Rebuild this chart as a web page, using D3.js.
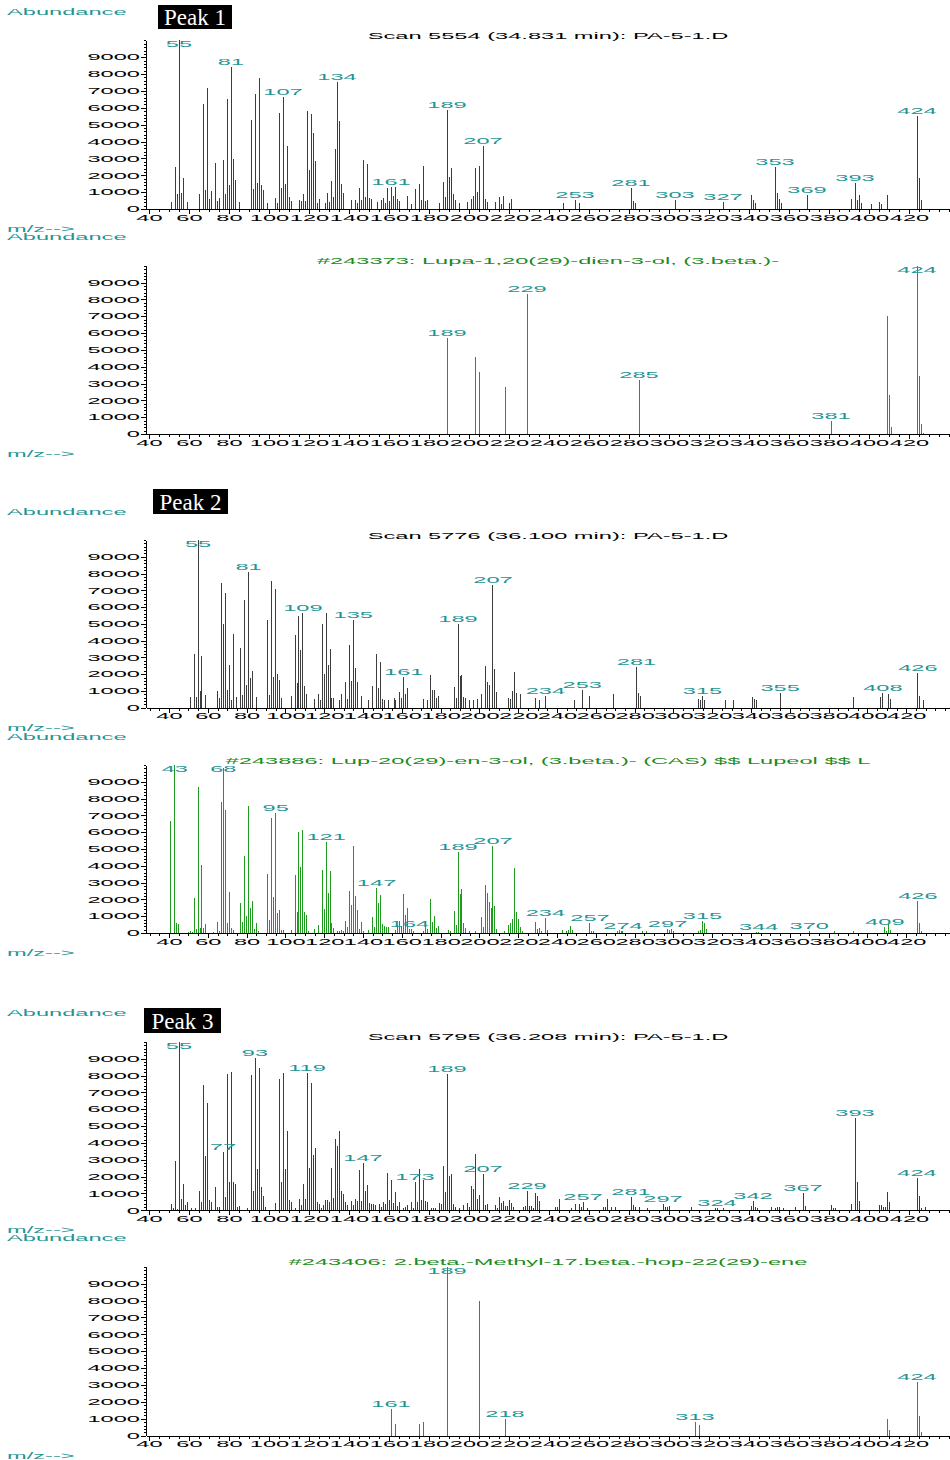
<!DOCTYPE html>
<html>
<head>
<meta charset="UTF-8">
<script src="https://d3js.org/d3.v7.min.js"></script>
<style>
  body { margin: 0; background: #fff; }
</style>
</head>
<body>
<script>
// ---- data: [m/z, abundance] ----
const peak1Scan = [
  [51,430],[53,2490],[54,870],[55,10000],[56,930],[57,1820],[59,430],
  [65,890],[67,6200],[68,1130],[69,7170],[70,590],[71,1050],[73,2750],[74,470],[75,650],
  [77,2900],[78,890],[79,6540],[80,1440],[81,8420],[82,2960],[83,1720],[85,415],
  [91,5300],[92,1190],[93,6840],[94,1520],[95,7770],[96,1420],[97,1130],[99,360],
  [103,630],[104,360],[105,5690],[106,1230],[107,6640],[108,1480],[109,3730],[110,730],[111,470],
  [115,550],[116,450],[117,890],[118,470],[119,5830],[120,2310],[121,5630],[122,4500],[123,2850],[124,360],[125,570],
  [128,360],[129,950],[130,415],[131,1640],[132,710],[133,3540],[134,7530],[135,5220],[136,1500],[137,950],
  [141,510],[143,510],[144,340],[145,1230],[146,550],[147,2890],[148,710],[149,2670],[150,670],[151,570],
  [154,400],[156,530],[157,650],[158,340],[159,1260],[160,450],[161,1320],[162,750],[163,1280],[164,570],[165,470],
  [169,750],[171,300],[173,1170],[175,1500],[176,530],[177,2530],[178,490],[179,550],
  [185,375],[187,1620],[188,710],[189,5850],[190,1900],[191,2450],[192,890],[193,550],[195,360],
  [199,415],[201,570],[202,750],[203,2450],[204,1010],[205,2530],[207,3750],[208,570],[209,415],
  [213,415],[215,710],[216,300],[217,770],[220,375],[221,590],
  [247,340],[253,550],[255,340],[281,1250],[282,470],[283,360],[303,510],[327,400],
  [341,810],[342,550],[343,375],[353,2490],[354,930],[355,610],[356,360],[369,830],
  [391,570],[393,1540],[394,530],[395,850],[396,360],[401,300],[405,415],[406,300],[409,850],
  [424,5490],[425,1820],[426,530]
];
const peak1ScanLabels = [55,81,107,134,161,189,207,253,281,303,327,353,369,393,424];

const peak1Lib = [
  [189,5690],[203,4600],[205,3690],[218,2820],[229,8310],[285,3190],[381,770],
  [409,7020],[410,2320],[411,420],[424,10000],[425,3450],[426,600],[427,80]
];
const peak1LibLabels = [189,229,285,381,424];

const peak2Scan = [
  [51,640],[53,3200],[54,640],[55,10000],[56,990],[57,3100],[59,740],
  [65,970],[66,580],[67,7430],[68,5010],[69,6830],[70,1030],[71,2520],[72,480],[73,4410],[75,620],
  [77,3540],[78,780],[79,6420],[80,1330],[81,8100],[82,1770],[83,2200],[85,640],
  [91,5210],[92,780],[93,7570],[94,1810],[95,7050],[96,2000],[97,1650],[98,580],
  [103,720],[105,4310],[106,1450],[107,5480],[108,3420],[109,5660],[110,1290],[111,830],
  [115,500],[117,790],[118,460],[119,4990],[120,2000],[121,5640],[122,2520],[123,3520],[124,580],[125,560],
  [128,460],[129,830],[131,1510],[132,540],[133,3720],[134,1610],[135,5250],[136,2360],[137,1550],[139,720],
  [143,440],[145,1290],[147,3220],[148,1190],[149,2700],[150,500],[151,460],[153,460],
  [156,560],[157,480],[159,950],[160,600],[161,1810],[162,830],[163,1170],
  [171,500],[173,460],[175,1970],[176,1030],[177,1030],[178,600],[179,680],
  [187,1230],[188,560],[189,4990],[190,1890],[191,1970],[192,660],[193,560],[195,440],[197,440],[199,500],
  [201,830],[203,2480],[204,1510],[205,1350],[207,7310],[208,2300],[209,910],
  [215,560],[216,540],[217,990],[218,2110],[219,850],[221,790],
  [229,560],[231,460],[234,720],[249,460],[253,1050],[257,720],[269,790],
  [281,2420],[282,890],[283,680],[313,520],[314,460],[315,720],[316,440],
  [327,480],[331,460],[341,640],[342,500],[343,440],[355,870],[393,640],
  [407,620],[408,900],[411,830],[412,540],[426,2070],[427,680],[429,440]
];
const peak2ScanLabels = [55,81,109,135,161,189,207,234,253,281,315,355,408,426];

const peak2Lib = [
  [41,6660],[43,10000],[44,620],[45,560],[50,80],[51,140],[52,80],[53,2070],[54,220],[55,8680],[56,280],[57,4050],[58,320],[59,540],
  [63,80],[65,640],[66,100],[67,7810],[68,9810],[69,7330],[70,600],[71,2460],[72,320],[73,160],
  [77,1770],[78,660],[79,4610],[80,1010],[81,7570],[82,1490],[83,1910],[84,260],[85,580],[86,120],
  [91,3540],[92,760],[93,6820],[94,2150],[95,7150],[96,1190],[97,1350],[98,180],[99,160],
  [103,160],[105,3440],[106,1250],[107,6030],[108,3930],[109,6120],[110,1270],[111,1050],[112,100],
  [115,220],[117,480],[119,3760],[120,1430],[121,5440],[122,2360],[123,3700],[124,580],[125,320],
  [127,120],[128,120],[129,180],[130,120],[131,720],[132,360],[133,2500],[134,1650],[135,5150],[136,2210],[137,1390],[138,260],[139,680],[140,120],
  [143,180],[145,940],[146,380],[147,2700],[148,1770],[149,2270],[150,540],[151,420],[152,360],[153,340],
  [157,200],[158,480],[159,740],[160,440],[161,2320],[162,1050],[163,1490],[164,240],[165,220],[166,120],
  [171,140],[172,740],[173,260],[175,2030],[176,680],[177,1010],[178,320],[179,420],
  [184,160],[185,140],[187,1330],[188,500],[189,4830],[190,2330],[191,2640],[192,580],[193,320],[195,120],[198,120],
  [201,970],[202,380],[203,2860],[204,2380],[205,1850],[206,1510],[207,5170],[208,1590],[209,220],
  [213,100],[215,460],[216,580],[217,830],[218,3850],[219,1250],[220,830],[221,340],[222,100],
  [229,660],[230,220],[231,320],[232,100],[234,890],[235,180],
  [243,160],[245,140],[246,160],[247,420],[248,160],[257,580],[258,140],[259,120],
  [271,120],[272,180],[273,120],[274,120],[284,100],[286,100],
  [297,220],[298,160],[299,240],[300,100],[313,140],[314,200],[315,720],[316,580],[317,260],
  [343,80],[344,80],[370,100],[383,100],[393,100],
  [409,380],[410,100],[411,520],[412,160],[426,1890],[427,580],[428,100]
];
const peak2LibLabels = [43,68,95,121,147,164,189,207,234,257,274,297,315,344,370,409,426];

const peak3Scan = [
  [51,360],[52,120],[53,2930],[54,100],[55,10000],[56,690],[57,1580],[58,300],[59,490],[61,120],[63,160],
  [65,1130],[66,490],[67,7460],[68,3240],[69,6370],[70,610],[71,470],[73,1380],[74,180],[75,180],
  [77,3480],[78,810],[79,8090],[80,1700],[81,8210],[82,1700],[83,1580],[84,220],[85,280],[89,140],
  [91,8030],[92,1150],[93,9040],[94,2470],[95,8470],[96,1400],[97,850],[98,200],
  [103,450],[105,7810],[106,1700],[107,8150],[108,2430],[109,4710],[110,590],[111,470],[113,120],
  [115,670],[116,340],[117,1560],[118,670],[119,8150],[120,2530],[121,7540],[122,3260],[123,3700],[124,510],[125,380],[126,140],[127,320],
  [128,590],[129,590],[130,490],[131,2490],[132,730],[133,4250],[134,3840],[135,4710],[136,1130],[137,970],[138,490],[139,340],
  [141,550],[142,320],[143,650],[144,550],[145,2410],[146,550],[147,2790],[148,1130],[149,1500],[150,430],[151,360],[152,360],[153,340],
  [155,380],[156,220],[157,490],[158,400],[159,2230],[160,590],[161,1780],[162,450],[163,1070],[164,260],[165,510],
  [167,140],[168,220],[169,320],[171,470],[172,160],[173,1700],[174,470],[175,2470],[176,590],[177,1800],[178,530],[179,490],
  [181,140],[182,140],[183,160],[185,450],[186,380],[187,2650],[188,1090],[189,8090],[190,2040],[191,2180],[192,380],[193,220],[195,140],[197,320],
  [199,430],[200,220],[201,1420],[202,1250],[203,3340],[204,650],[205,890],[207,2160],[208,340],[209,360],
  [213,320],[214,160],[215,770],[216,430],[217,530],[218,280],[219,280],[220,610],[221,430],[222,180],
  [227,220],[228,280],[229,1170],[230,280],[231,280],[232,140],[233,1010],[234,850],[235,550],
  [243,220],[244,180],[245,650],[251,120],[253,360],[255,360],[256,220],[257,510],[259,120],
  [267,220],[268,180],[269,690],[271,220],[273,180],
  [281,770],[282,300],[283,220],[285,220],[289,120],[297,360],[298,220],[299,220],[300,280],[311,200],
  [323,120],[324,160],[327,120],[341,280],[342,550],[343,180],[344,140],
  [351,180],[353,120],[354,180],[355,200],[357,120],[363,180],[367,1010],[368,240],
  [381,340],[382,140],[383,140],[391,360],[393,5460],[394,1680],[395,570],
  [405,320],[406,320],[407,170],[408,170],[409,1070],[410,500],[424,1940],[425,830],[426,120],[428,220]
];
const peak3ScanLabels = [55,77,93,119,147,173,189,207,229,257,281,297,324,342,367,393,424];

const peak3Lib = [
  [161,1580],[163,710],[175,690],[177,810],[189,10000],[205,7990],[218,990],
  [313,810],[315,610],[409,990],[410,340],[424,3200],[425,1140],[426,200]
];
const peak3LibLabels = [161,189,218,313,424];

const scanTitles = [
  "Scan 5554 (34.831 min): PA-5-1.D",
  "Scan 5776 (36.100 min): PA-5-1.D",
  "Scan 5795 (36.208 min): PA-5-1.D"
];
const libTitles = [
  "#243373: Lupa-1,20(29)-dien-3-ol, (3.beta.)-",
  "#243886: Lup-20(29)-en-3-ol, (3.beta.)- (CAS) $$ Lupeol $$ L",
  "#243406: 2.beta.-Methyl-17.beta.-hop-22(29)-ene"
];
const peakNames = ["Peak 1", "Peak 2", "Peak 3"];
const xTickLabels = d3.range(40, 421, 20);
const yTickLabels = d3.range(0, 9001, 1000);

// ---- styling ----
const FONT = "'Liberation Sans', Arial, sans-serif";
const FS = 8.5, SX = 2.78;   // chemstation style: small and very wide
const TEAL = "#1f9595", GREEN = "#1a8c1a", BAR = "#3c3c3c", LIBBAR = "#1f9a1f";
const X0 = 146, X1 = 950;

const svg = d3.select("body").append("svg")
  .attr("width", 950).attr("height", 1460);

function wide(g, x, y, txt, anchor, color) {
  return g.append("text")
    .attr("transform", `translate(${x},${y}) scale(${SX},1)`)
    .attr("text-anchor", anchor)
    .attr("fill", color)
    .attr("font-family", FONT)
    .attr("font-size", FS)
    .text(txt);
}

function drawPanel(o) {
  const g = svg.append("g");
  const x = d3.scaleLinear().domain([o.mzLeft, o.mzLeft + (X1 - X0) / o.ppu]).range([X0, X1]);
  const y = d3.scaleLinear().domain([0, 10000]).range([o.base, o.top]);

  // x axis: minor ticks every 5, labelled ticks every 20
  g.append("g").attr("transform", `translate(0,${o.base})`)
    .call(d3.axisBottom(x).tickValues(d3.range(Math.ceil(o.mzLeft / 5) * 5, x.domain()[1], 5))
      .tickSize(3).tickSizeOuter(0).tickFormat(""));
  const xa = g.append("g").attr("transform", `translate(0,${o.base})`)
    .call(d3.axisBottom(x).tickValues(xTickLabels).tickSize(5).tickSizeOuter(0).tickFormat(d3.format("d")));
  xa.select(".domain").remove();
  xa.selectAll("text")
    .attr("y", 5.5)
    .attr("transform", `scale(${SX},1)`)
    .attr("font-family", FONT).attr("font-size", FS).attr("fill", "#000");

  // y axis
  g.append("g").attr("transform", `translate(${X0},0)`)
    .call(d3.axisLeft(y).tickValues(d3.range(0, 10001, 200)).tickSize(2).tickSizeOuter(0).tickFormat(""));
  const ya = g.append("g").attr("transform", `translate(${X0},0)`)
    .call(d3.axisLeft(y).tickValues(yTickLabels).tickSize(5).tickPadding(1).tickSizeOuter(0)
      .tickFormat(d3.format("d")));
  ya.select(".domain").remove();
  ya.selectAll("text")
    .attr("x", -6 / SX)
    .attr("transform", `scale(${SX},1)`)
    .attr("font-family", FONT).attr("font-size", FS).attr("fill", "#000");
  g.selectAll(".domain, .tick line").attr("shape-rendering", "crispEdges");

  // sticks
  g.append("g").selectAll("line").data(o.peaks).join("line")
    .attr("x1", d => x(d[0])).attr("x2", d => x(d[0]))
    .attr("y1", y(0)).attr("y2", d => y(d[1]))
    .attr("stroke", o.barColor).attr("stroke-width", 1)
    .attr("shape-rendering", "crispEdges");

  // m/z labels above peaks
  const lookup = new Map(o.peaks);
  o.labels.forEach(m => {
    const v = lookup.get(m) || 0;
    wide(g, x(m), Math.max(y(v) - 2, o.top + 7), String(m), "middle", TEAL);
  });

  wide(g, 548, o.top - 1.5, o.title, "middle", o.titleColor);
  wide(g, 7, o.top - 25.5, "Abundance", "start", TEAL);
  wide(g, 7, o.base + 23, "m/z-->", "start", TEAL);

  if (o.box) {
    g.append("rect").attr("x", o.box.x).attr("y", o.box.y)
      .attr("width", o.box.w).attr("height", o.box.h).attr("fill", "#000");
    g.append("text").attr("x", o.box.x + o.box.w / 2).attr("y", o.box.y + o.box.h - 4.5)
      .attr("text-anchor", "middle").attr("fill", "#fff")
      .attr("font-family", "'Liberation Serif', 'Times New Roman', serif")
      .attr("font-size", 23).text(o.box.text);
  }
}

drawPanel({top: 40.4, base: 209, mzLeft: 38.5, ppu: 2, peaks: peak1Scan, labels: peak1ScanLabels,
  title: scanTitles[0], titleColor: "#000", barColor: BAR,
  box: {x: 158, y: 5, w: 74, h: 24, text: peakNames[0]}});
drawPanel({top: 265.8, base: 434, mzLeft: 38.5, ppu: 2, peaks: peak1Lib, labels: peak1LibLabels,
  title: libTitles[0], titleColor: GREEN, barColor: LIBBAR});
drawPanel({top: 540, base: 707.7, mzLeft: 40 - 23 / 1.94, ppu: 1.94, peaks: peak2Scan, labels: peak2ScanLabels,
  title: scanTitles[1], titleColor: "#000", barColor: BAR,
  box: {x: 153, y: 489, w: 75, h: 25, text: peakNames[1]}});
drawPanel({top: 765, base: 933, mzLeft: 40 - 23 / 1.94, ppu: 1.94, peaks: peak2Lib, labels: peak2LibLabels,
  title: libTitles[1], titleColor: GREEN, barColor: LIBBAR});
drawPanel({top: 1041.8, base: 1210.3, mzLeft: 38.5, ppu: 2, peaks: peak3Scan, labels: peak3ScanLabels,
  title: scanTitles[2], titleColor: "#000", barColor: BAR,
  box: {x: 144, y: 1008, w: 77, h: 25, text: peakNames[2]}});
drawPanel({top: 1266.8, base: 1435.7, mzLeft: 38.5, ppu: 2, peaks: peak3Lib, labels: peak3LibLabels,
  title: libTitles[2], titleColor: GREEN, barColor: LIBBAR});
</script>
</body>
</html>
